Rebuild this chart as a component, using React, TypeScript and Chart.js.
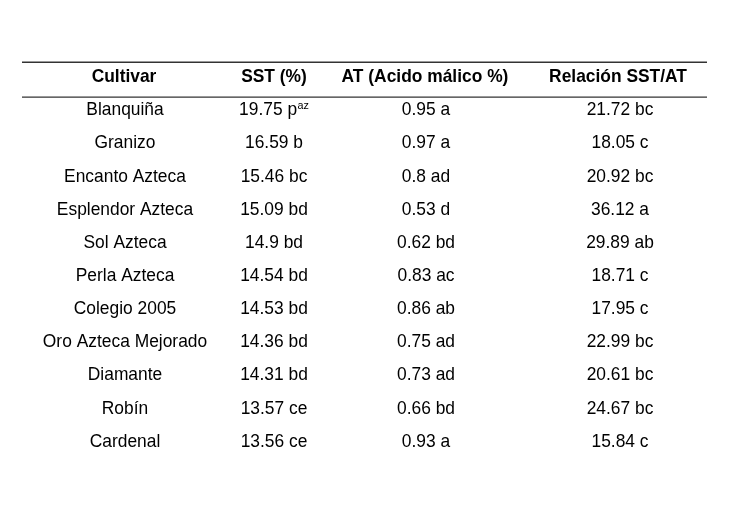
import React, { useEffect, useRef } from "react";
import { Chart, registerables } from "chart.js";

Chart.register(...registerables);

// ---- data ----
const HEADERS = ["Cultivar", "SST (%)", "AT (Acido málico %)", "Relación SST/AT"];
const CULTIVARS = [
  "Blanquiña",
  "Granizo",
  "Encanto Azteca",
  "Esplendor Azteca",
  "Sol Azteca",
  "Perla Azteca",
  "Colegio 2005",
  "Oro Azteca Mejorado",
  "Diamante",
  "Robín",
  "Cardenal",
];
const SST_VALUES = [19.75, 16.59, 15.46, 15.09, 14.9, 14.54, 14.53, 14.36, 14.31, 13.57, 13.56];
const SST_LETTERS = ["p", "b", "bc", "bd", "bd", "bd", "bd", "bd", "bd", "ce", "ce"];
const SST_SUPERSCRIPTS = ["az", "", "", "", "", "", "", "", "", "", ""];
const AT_VALUES = [0.95, 0.97, 0.8, 0.53, 0.62, 0.83, 0.86, 0.75, 0.73, 0.66, 0.93];
const AT_LETTERS = ["a", "a", "ad", "d", "bd", "ac", "ab", "ad", "ad", "bd", "a"];
const RATIO_VALUES = [21.72, 18.05, 20.92, 36.12, 29.89, 18.71, 17.95, 22.99, 20.61, 24.67, 15.84];
const RATIO_LETTERS = ["bc", "c", "bc", "a", "ab", "c", "c", "bc", "bc", "bc", "c"];

// ---- layout (styling) ----
const W = 742;
const H = 512;
const COL_X = [125, 274, 426, 620];
const HEADER_COL_X = [124, 274, 425, 618];
const FONT_FAMILY = '"Liberation Sans", Arial, sans-serif';
const FONT_SIZE = 17.4;
const SCALE_Y = 1.06;
const RULE_ROWS = [-0.4, 0.65];
const RULE_X = [22, 707];

const tablePlugin = {
  id: "tableText",
  afterDraw(chart: any) {
    const ctx = chart.ctx as CanvasRenderingContext2D;
    const xs = chart.scales.x;
    const ys = chart.scales.y;
    const capHalf = 0.358 * FONT_SIZE * SCALE_Y;

    const drawText = (
      text: string,
      cx: number,
      cyCenter: number,
      bold: boolean,
      sup?: string
    ) => {
      ctx.save();
      const mainFont = `${bold ? "bold " : ""}${FONT_SIZE}px ${FONT_FAMILY}`;
      const supFont = `${FONT_SIZE * 0.62}px ${FONT_FAMILY}`;
      ctx.font = mainFont;
      const wMain = ctx.measureText(text).width;
      let wSup = 0;
      if (sup) {
        ctx.font = supFont;
        wSup = ctx.measureText(sup).width + 0.5;
      }
      const total = wMain + wSup;
      const startX = cx - total / 2;
      const baseY = cyCenter + capHalf;
      ctx.fillStyle = "#000000";
      ctx.textAlign = "left";
      ctx.textBaseline = "alphabetic";
      ctx.translate(startX, baseY);
      ctx.scale(1, SCALE_Y);
      ctx.font = mainFont;
      ctx.fillText(text, 0, 0);
      if (sup) {
        ctx.font = supFont;
        ctx.fillText(sup, wMain + 0.5, -6.2);
      }
      ctx.restore();
    };

    // rules
    ctx.save();
    ctx.strokeStyle = "#333333";
    ctx.lineWidth = 1.3;
    RULE_ROWS.forEach((r) => {
      const y = ys.getPixelForValue(r);
      ctx.beginPath();
      ctx.moveTo(xs.getPixelForValue(RULE_X[0]), y);
      ctx.lineTo(xs.getPixelForValue(RULE_X[1]), y);
      ctx.stroke();
    });
    ctx.restore();

    // header
    const hy = ys.getPixelForValue(0);
    HEADERS.forEach((h, c) => {
      drawText(h, xs.getPixelForValue(HEADER_COL_X[c]), hy, true);
    });

    // body
    CULTIVARS.forEach((name, i) => {
      const y = ys.getPixelForValue(i + 1);
      drawText(name, xs.getPixelForValue(COL_X[0]), y, false);
      drawText(
        `${SST_VALUES[i]} ${SST_LETTERS[i]}`,
        xs.getPixelForValue(COL_X[1]),
        y,
        false,
        SST_SUPERSCRIPTS[i] || undefined
      );
      drawText(`${AT_VALUES[i]} ${AT_LETTERS[i]}`, xs.getPixelForValue(COL_X[2]), y, false);
      drawText(`${RATIO_VALUES[i]} ${RATIO_LETTERS[i]}`, xs.getPixelForValue(COL_X[3]), y, false);
    });
  },
};

export default function App() {
  const ref = useRef<HTMLCanvasElement | null>(null);

  useEffect(() => {
    if (!ref.current) return;
    const chart = new Chart(ref.current, {
      type: "scatter",
      data: { datasets: [] },
      options: {
        animation: false,
        responsive: false,
        maintainAspectRatio: false,
        layout: { padding: 0 },
        plugins: {
          legend: { display: false },
          title: { display: false },
          tooltip: { enabled: false },
        },
        scales: {
          x: { type: "linear", min: 0, max: W, display: false },
          y: { type: "linear", min: -2.278, max: 13.167, reverse: true, display: false },
        },
      },
      plugins: [tablePlugin],
    });
    return () => chart.destroy();
  }, []);

  return (
    <div style={{ position: "fixed", left: 0, top: 0, width: W, height: H, background: "#ffffff" }}>
      <canvas ref={ref} width={W} height={H} style={{ width: W, height: H, display: "block" }} />
    </div>
  );
}
